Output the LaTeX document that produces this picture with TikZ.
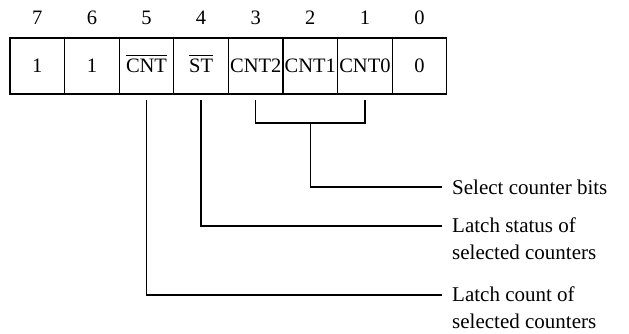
\documentclass[tikz,border=0pt]{standalone}
\usepackage{fontspec}
\setmainfont{Liberation Serif}
\usepackage{tikz}
\usetikzlibrary{calc}
\newcommand\ovl[1]{\smash{\vbox{\hrule height 1.1pt\kern 3pt\hbox{#1}}}\vphantom{#1}}

\begin{document}
\begin{tikzpicture}[x=1pt, y=1pt,
    cell/.style={rectangle, draw=black, line width=1.3pt, inner sep=0pt,
                 outer sep=0pt, minimum width=54.6pt, minimum height=56pt,
                 font=\fontsize{20.5}{24}\selectfont},
    num/.style={inner sep=0pt, font=\fontsize{20.5}{24}\selectfont},
    lbl/.style={anchor=west, inner sep=0pt, align=left,
                font=\fontsize{21}{27}\selectfont},
    wire/.style={line width=1.3pt}]

    \useasboundingbox (0,0) rectangle (629,-333);

    % bit numbers
    \node[num] (n7) at (37.3,-18)  {7};
    \node[num] (n6) at (91.9,-18)  {6};
    \node[num] (n5) at (146.5,-18) {5};
    \node[num] (n4) at (201.1,-18) {4};
    \node[num] (n3) at (255.7,-18) {3};
    \node[num] (n2) at (310.3,-18) {2};
    \node[num] (n1) at (364.9,-18) {1};
    \node[num] (n0) at (419.5,-18) {0};

    % register cells
    \node[cell] (b7) at (37.3,-66)  {1};
    \node[cell] (b6) at (91.9,-66)  {1};
    \node[cell] (b5) at (146.5,-66) {\ovl{CNT}};
    \node[cell] (b4) at (201.1,-66) {\ovl{ST}};
    \node[cell] (b3) at (255.7,-66) {CNT2};
    \node[cell] (b2) at (310.3,-66) {CNT1};
    \node[cell] (b1) at (364.9,-66) {CNT0};
    \node[cell] (b0) at (419.5,-66) {0};

    % line ends and descriptions
    \coordinate (e1) at (442,-187);
    \coordinate (e2) at (442,-226);
    \coordinate (e3) at (442,-295);
    \node[lbl] (sel)  at ($(e1)+(10,0)$) {Select counter bits};
    \node[lbl, anchor=north west] (stat) at ($(e2)+(10,8)$)
        {Latch status of\\selected counters};
    \node[lbl, anchor=north west] (lcnt) at ($(e3)+(10,8)$)
        {Latch count of\\selected counters};

    \draw[wire] ($(b3.south)+(0,-6)$) |- ($(b2.south)+(0,-29)$)
                -| ($(b1.south)+(0,-6)$);
    \draw[wire] ($(b2.south)+(0,-29)$) |- (e1);
    \draw[wire] ($(b4.south)+(0,-6)$) |- (e2);
    \draw[wire] ($(b5.south)+(0,-6)$) |- (e3);

\end{tikzpicture}
\end{document}
